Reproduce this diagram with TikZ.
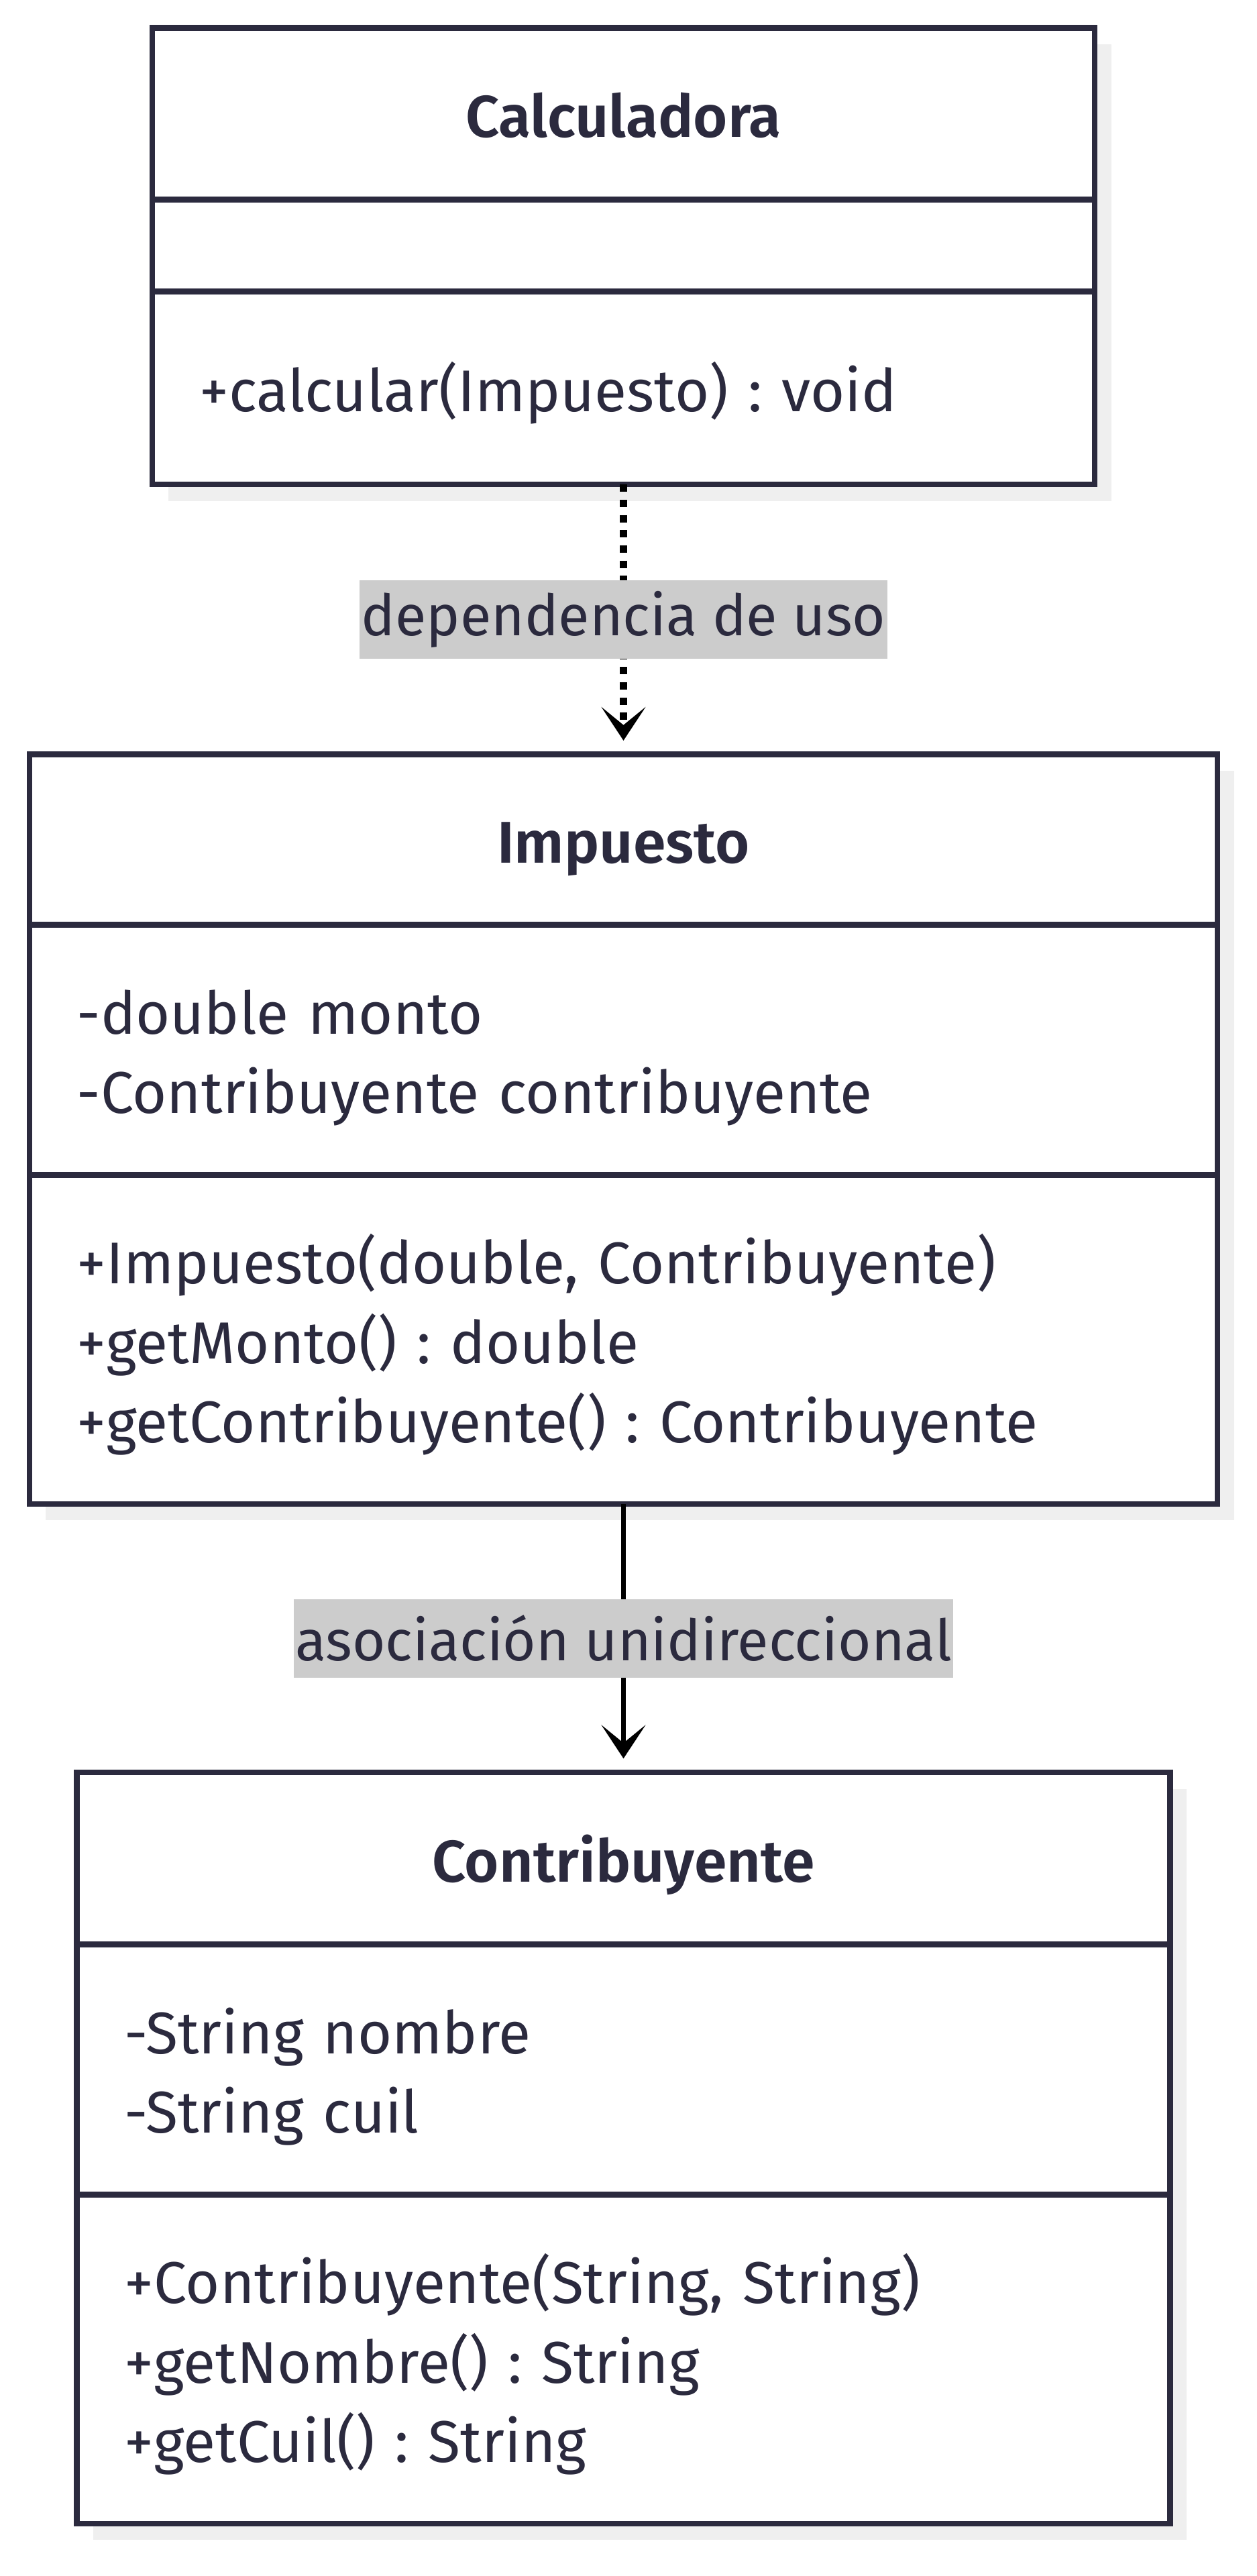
\documentclass[tikz,border=0pt]{standalone}
\usepackage{fontspec}
\setmainfont{Fira Sans}[BoldFont={Fira Sans SemiBold}]
\usepackage{tikz}
\usetikzlibrary{arrows.meta,shadows}
\usetikzlibrary{positioning}
\definecolor{umlink}{HTML}{2B2A3E}
\definecolor{umlshadow}{HTML}{EFEFEF}
\definecolor{lblgray}{HTML}{CCCCCC}
\tikzset{>={Stealth[length=20.5pt, width=27pt, inset=11pt]}}
\frenchspacing

\begin{document}
\begin{tikzpicture}[x=1pt, y=1pt,
  classpart/.style={rectangle, draw=umlink, fill=white, line width=3.5pt, outer sep=0pt,
    inner xsep=29pt, inner ysep=0pt, text=umlink, align=left,
    font=\fontsize{36}{48.5}\selectfont,
    execute at begin node=\rule{0pt}{40pt}, execute at end node=\rule[-11pt]{0pt}{11pt},
    drop shadow={shadow xshift=10pt, shadow yshift=-10pt, fill=umlshadow, opacity=1}},
  classhead/.style={classpart, align=center, font=\fontsize{36}{48.5}\selectfont\bfseries},
  edgelabel/.style={fill=lblgray, text=umlink, inner xsep=1pt, inner ysep=0pt, minimum height=48pt,
    font=\fontsize{34.8}{48.5}\selectfont},
  node distance=0pt]
  \useasboundingbox (0,0) rectangle (768,-1574);
  % Calculadora
  \node[classhead, text width=518pt, minimum height=105pt] (calc) at (381,-69.5) {Calculadora};
  \node[classpart, text width=518pt, minimum height=56pt, below=of calc] (calcAttr) {};
  \node[classpart, text width=518pt, minimum height=118pt, below=of calcAttr] (calcOps) {+calcular(Impuesto) : void};
  % Impuesto
  \node[classhead, text width=668pt, minimum height=104pt, below=165pt of calcOps] (imp) {Impuesto};
  \node[classpart, text width=668pt, minimum height=153pt, below=of imp] (impAttr) {-double monto\\-Contribuyente contribuyente};
  \node[classpart, text width=668pt, minimum height=201pt, below=of impAttr] (impOps) {+Impuesto(double, Contribuyente)\\+getMonto() : double\\+getContribuyente() : Contribuyente};
  % Contribuyente
  \node[classhead, text width=610pt, minimum height=105pt, below=164pt of impOps] (contrib) {Contribuyente};
  \node[classpart, text width=610pt, minimum height=153pt, below=of contrib] (contribAttr) {-String nombre\\-String cuil};
  \node[classpart, text width=610pt, minimum height=201pt, below=of contribAttr] (contribOps) {+Contribuyente(String, String)\\+getNombre() : String\\+getCuil() : String};
  % relaciones
  \draw[->, line width=4.5pt, dash pattern=on 4.5pt off 4.8pt, shorten >=8.5pt]
    (calcOps) -- node[edgelabel] {dependencia de uso} (imp);
  \draw[->, line width=3pt, shorten >=8.5pt]
    (impOps) -- node[edgelabel] {asociación unidireccional} (contrib);
\end{tikzpicture}
\end{document}
